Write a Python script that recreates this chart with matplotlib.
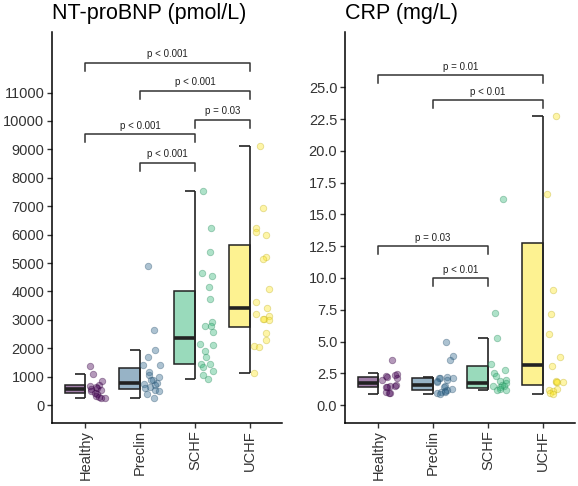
import numpy as np
import matplotlib
matplotlib.use("Agg")
import matplotlib.pyplot as plt
from matplotlib.patches import Rectangle
from matplotlib.colors import to_rgba

plt.rcParams['font.family'] = ['Liberation Sans', 'DejaVu Sans']

groups = ["Healthy", "Preclin", "SCHF", "UCHF"]
colors = ["#440154", "#31688E", "#35B779", "#FDE725"]

# NT-proBNP (pmol/L) observations
bnp_healthy = [1370, 1080, 840, 700, 680, 650, 600, 560, 520, 480, 430, 380, 330, 300, 260, 250]
bnp_preclin = [4890, 2630, 1940, 1700, 1420, 1420, 1150, 1060, 1000, 880, 870, 770, 750, 720, 650, 600, 520, 500, 390, 240]
bnp_schf = [7530, 6220, 5400, 4660, 4550, 4140, 3720, 2910, 2800, 2780, 2580, 2140, 2120, 1900, 1680, 1460, 1430, 1340, 1210, 1060, 910]
bnp_uchf = [9130, 6940, 6220, 6100, 6000, 5220, 5140, 4070, 3640, 3420, 3200, 3130, 3030, 3030, 2990, 2520, 2290, 2080, 2050, 1120]

# NT-proBNP box statistics: q1, median, q3, lower whisker, upper whisker
bnp_q1 = [410, 575, 1455, 2758]
bnp_med = [552, 790, 2347, 3427]
bnp_q3 = [704, 1313, 4025, 5634]
bnp_lo = [235, 235, 927, 1115]
bnp_hi = [1080, 1937, 7535, 9130]

# CRP (mg/L) observations
crp_healthy = [3.54, 2.45, 2.35, 2.3, 2.2, 2.15, 1.95, 1.6, 1.5, 1.48, 1.45, 1.4, 1.05, 0.97, 0.95]
crp_preclin = [4.98, 3.85, 3.55, 2.2, 2.15, 2.15, 2.1, 2.0, 1.9, 1.8, 1.5, 1.4, 1.3, 1.2, 1.1, 1.05, 1.0, 0.95, 0.9]
crp_schf = [16.2, 7.25, 5.3, 3.2, 2.75, 2.5, 2.3, 2.0, 1.9, 1.75, 1.6, 1.5, 1.5, 1.45, 1.3, 1.2, 1.15]
crp_uchf = [22.75, 16.6, 9.05, 7.2, 5.6, 3.75, 3.1, 1.85, 1.85, 1.9, 1.8, 1.3, 1.2, 1.1, 0.95, 0.85]

crp_q1 = [1.44, 1.2, 1.34, 1.55]
crp_med = [1.75, 1.55, 1.75, 3.12]
crp_q3 = [2.23, 2.15, 3.07, 12.79]
crp_lo = [0.86, 0.86, 1.15, 0.84]
crp_hi = [2.49, 2.23, 5.29, 22.74]

# significance brackets: (group a, group b, label) and bracket levels
bnp_pairs = [(1, 4, "p < 0.001"), (2, 4, "p < 0.001"), (3, 4, "p = 0.03"), (1, 3, "p < 0.001"), (2, 3, "p < 0.001")]
bnp_levels = [12050, 11056, 10035, 9532, 8532]
crp_pairs = [(1, 4, "p = 0.01"), (2, 4, "p < 0.01"), (1, 3, "p = 0.03"), (2, 3, "p < 0.01")]
crp_levels = [25.94, 24.0, 12.5, 9.98]

bnp_ticks = list(range(0, 11001, 1000))
crp_ticks = [0, 2.5, 5, 7.5, 10, 12.5, 15, 17.5, 20, 22.5, 25]


def darker(c, f=0.75):
    r, g, b, _ = to_rgba(c)
    return (r * f, g * f, b * f)


def draw_panel(ax, data, q1, med, q3, lo, hi, pairs, levels, tick_drop, title, ticks, fmt, ylim, seed):
    rng = np.random.default_rng(seed)
    bw, cw = 0.38, 0.19
    for i, (vals, c) in enumerate(zip(data, colors)):
        x = i + 1
        ax.add_patch(Rectangle((x - bw, q1[i]), bw, q3[i] - q1[i],
                               facecolor=to_rgba(c, 0.5), edgecolor="#222222", lw=1.1, zorder=2))
        ax.hlines(med[i], x - bw, x, color="#222222", lw=2.6, zorder=3)
        ax.vlines(x, lo[i], hi[i], color="#222222", lw=1.2, zorder=3)
        ax.hlines([lo[i], hi[i]], x - cw, x, color="#222222", lw=1.2, zorder=3)
        jit = rng.uniform(0.06, 0.37, len(vals))
        ax.scatter(x + jit, vals, s=22, facecolor=to_rgba(c, 0.4),
                   edgecolor=to_rgba(darker(c), 0.4), linewidth=0.6, zorder=4)
    for (a, b, lab), lev in zip(pairs, levels):
        ax.plot([a, a, b, b], [lev - tick_drop, lev, lev, lev - tick_drop],
                color="#333333", lw=1.1, zorder=5, clip_on=False)
        ax.annotate(lab, xy=((a + b) / 2, lev), xytext=(0, 2.5), textcoords="offset points",
                    ha="center", va="bottom", fontsize=7, color="#222222")
    ax.set_xlim(0.39, 4.59)
    ax.set_ylim(*ylim)
    ax.set_xticks(range(1, 5))
    ax.set_xticklabels(groups, rotation=90, fontsize=10.5, color="#333333")
    ax.set_yticks(ticks)
    ax.set_yticklabels([fmt(t) for t in ticks], fontsize=10.5, color="#333333")
    for s in ["top", "right"]:
        ax.spines[s].set_visible(False)
    for s in ["left", "bottom"]:
        ax.spines[s].set_linewidth(1.1)
        ax.spines[s].set_color("black")
    ax.tick_params(axis="both", length=3.5, width=1.0, color="#333333", pad=2)
    ax.set_title(title, loc="left", fontsize=15.5, pad=9, color="black")


fig = plt.figure(figsize=(5.78, 4.86), dpi=100)
ax1 = fig.add_axes([52 / 578, 1 - 422.7 / 486, 230 / 578, 390.7 / 486])
ax2 = fig.add_axes([345 / 578, 1 - 422.7 / 486, 230 / 578, 390.7 / 486])

draw_panel(ax1, [bnp_healthy, bnp_preclin, bnp_schf, bnp_uchf], bnp_q1, bnp_med, bnp_q3, bnp_lo, bnp_hi,
           bnp_pairs, bnp_levels, 290, "NT-proBNP (pmol/L)", bnp_ticks, lambda t: f"{t:d}",
           (-620, 13130), 3)
draw_panel(ax2, [crp_healthy, crp_preclin, crp_schf, crp_uchf], crp_q1, crp_med, crp_q3, crp_lo, crp_hi,
           crp_pairs, crp_levels, 0.62, "CRP (mg/L)", crp_ticks, lambda t: f"{t:.1f}",
           (-1.39, 29.36), 7)

fig.savefig("out.png", dpi=100)
